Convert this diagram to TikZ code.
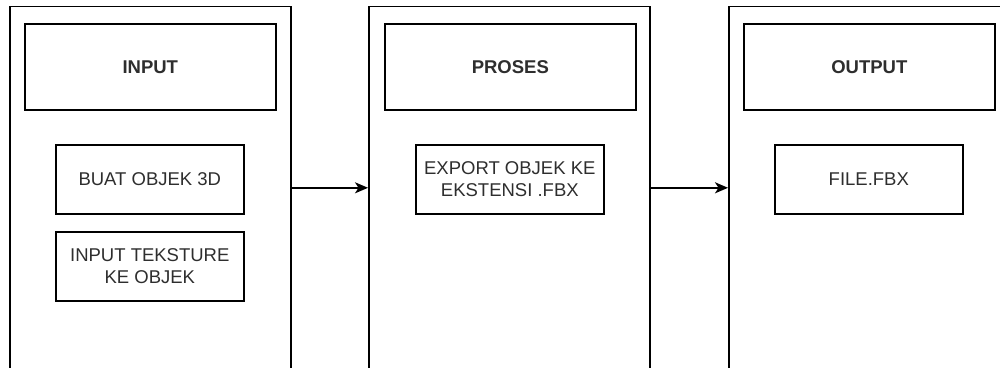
\documentclass[tikz,border=0pt]{standalone}
\usepackage{fontspec}
\setmainfont{Liberation Sans}
\usetikzlibrary{arrows.meta}
\definecolor{txt}{HTML}{2E2E2E}
\begin{document}
\begin{tikzpicture}[x=1pt,y=-1pt,
  panel/.style={draw,line width=1.6pt,rectangle,inner sep=0pt,minimum width=281pt,minimum height=363pt,anchor=north west},
  headbox/.style={draw,line width=1.6pt,rectangle,inner sep=0pt,minimum width=251pt,minimum height=86pt,anchor=north west,font=\fontsize{18.5}{20}\selectfont\bfseries,text=txt},
  itembox/.style={draw,line width=1.6pt,rectangle,inner sep=0pt,minimum width=188pt,minimum height=69pt,anchor=north west,font=\fontsize{18.5}{22}\selectfont,text=txt,align=center},
  flow/.style={line width=1.6pt,-{Stealth[length=13pt,width=11pt,inset=3.5pt]}}]
\useasboundingbox (0,0) rectangle (1000,367);
% three stage columns
\node[panel] (p1) at (9,5.5) {};
\node[panel] (p2) at (368,5.5) {};
\node[panel] (p3) at (728,5.5) {};
% column headings
\node[headbox] (h1) at (24,23) {INPUT};
\node[headbox] (h2) at (384,23) {PROSES};
\node[headbox] (h3) at (743,23) {OUTPUT};
% steps
\node[itembox] (b1) at (55,144) {BUAT OBJEK 3D};
\node[itembox] (b2) at (55,231) {INPUT TEKSTURE\\KE OBJEK};
\node[itembox] (b3) at (415,144) {EXPORT OBJEK KE\\EKSTENSI .FBX};
\node[itembox] (b4) at (774,144) {FILE.FBX};
% flow between columns
\draw[flow] (p1.east) -- (p2.west);
\draw[flow] (p2.east) -- (p3.west);
\end{tikzpicture}
\end{document}
